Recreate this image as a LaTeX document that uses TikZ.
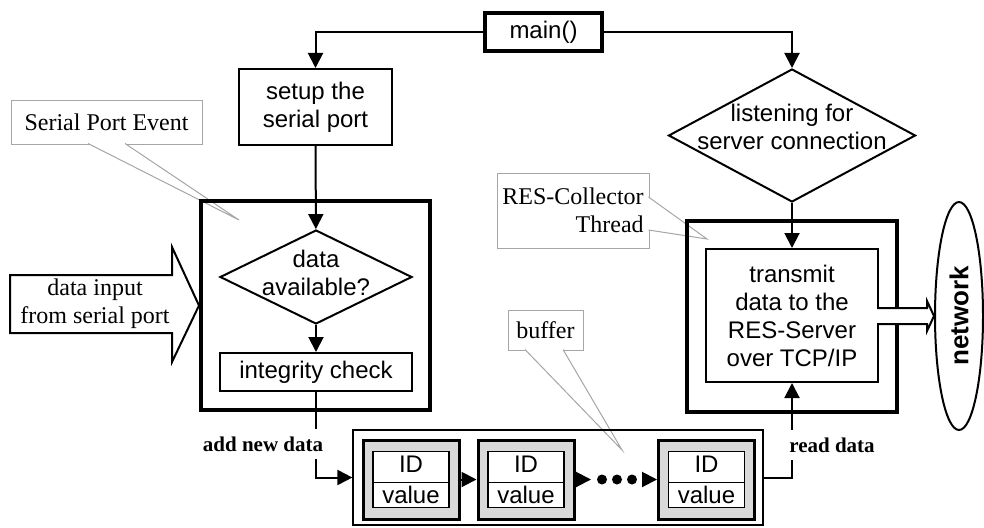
\documentclass[tikz,border=0pt]{standalone}
\usepackage{fontspec}
\setmainfont{Liberation Sans}
\newfontfamily\notefont{Liberation Serif}
\usetikzlibrary{arrows.meta,shapes.geometric,shapes.multipart}

\newcommand{\boxfont}{\fontsize{24}{28}\selectfont}

\begin{document}
\begin{tikzpicture}[x=1pt,y=-1pt,line width=2pt,
        arrow/.style={-{Triangle[length=15pt,width=15pt]}},
        block/.style={draw, rectangle, font=\boxfont, align=center, inner sep=2pt},
        decision/.style={draw, diamond, inner sep=0pt},
        threadbox/.style={draw, rectangle, line width=4pt},
        note/.style={draw=gray!70, line width=1pt, fill=white, font=\notefont\boxfont, inner sep=3pt},
        wedge/.style={draw=gray!70, line width=1pt, fill=white, line join=miter},
        hollow/.style={draw, fill=white, line width=2pt, line join=miter},
        flowlabel/.style={fill=white, font=\notefont\bfseries\fontsize{21}{25}\selectfont,
            inner xsep=2pt, inner ysep=8pt},
        cellframe/.style={draw, line width=3pt, fill=gray!30, minimum width=96pt, minimum height=79pt},
        cell/.style={draw, line width=1.2pt, fill=white, rectangle split, rectangle split parts=2,
            font=\boxfont, minimum width=76pt, text height=17pt, text depth=6pt,
            inner ysep=3.25pt, inner xsep=2pt}]
        \useasboundingbox (0,0) rectangle (984,527);

        % Comment boxes and where they point to
        \coordinate (porttip) at (239,220);
        \coordinate (threadtip) at (707,239);
        \coordinate (buffertip) at (622,450);
        \node[note, minimum width=191pt, minimum height=44pt] (portnote) at (106.5,122) {Serial Port Event};
        \draw[wedge] ([xshift=-18.5pt,yshift=1pt]portnote.south) -- (porttip)
            -- ([xshift=18.5pt,yshift=1pt]portnote.south);
        \node[note, minimum width=152pt, minimum height=75pt, align=right] (threadnote) at (573,210.5)
            {RES-Collector\\Thread};
        \draw[wedge] ([xshift=-1pt,yshift=13.5pt]threadnote.east) -- (threadtip)
            -- ([xshift=-1pt,yshift=-19.5pt]threadnote.east);
        \node[note, minimum width=75pt, minimum height=40pt] (buffernote) at (545.5,330) {buffer};
        \draw[wedge] ([xshift=-20.5pt,yshift=1pt]buffernote.south) -- (buffertip)
            -- ([xshift=17.5pt,yshift=1pt]buffernote.south);

        % Event handler and thread frames
        \node[threadbox, minimum width=229pt, minimum height=209pt] (serialbox) at (315.5,305.5) {};
        \node[threadbox, minimum width=210pt, minimum height=191pt] (collector) at (792,316.5) {};

        % Flow chart
        \node[block, line width=3.5pt, minimum width=117pt, minimum height=38pt] (main) at (543.5,32) {main()};
        \node[block, minimum width=153pt, minimum height=76pt] (setup) at (315.5,107) {setup the\\serial port};
        \node[decision, minimum width=192pt, minimum height=94pt,
            label={[font=\boxfont, align=center, yshift=4pt]center:data\\available?}] (avail) at (316,277) {};
        \node[block, minimum width=192pt, minimum height=38pt] (integrity) at (316,372) {integrity check};
        \node[decision, minimum width=247pt, minimum height=133pt,
            label={[font=\boxfont, align=center, yshift=9pt]center:listening for\\server connection}] (listen) at (792,135.5) {};
        \node[block, minimum width=172pt, minimum height=133pt] (transmit) at (792,315.5)
            {transmit\\data to the\\RES-Server\\over TCP/IP};
        \node[draw, ellipse, rotate=90, minimum width=228pt, minimum height=48pt, inner sep=0pt,
            font=\bfseries\fontsize{26}{30}\selectfont] (network) at (959,316) {network};

        % Buffer with its entries
        \node[draw, line width=1.2pt, minimum width=410pt, minimum height=95pt] (buffer) at (558,477.5) {};
        \foreach \n/\x in {a/411,b/526,c/706.5} {
            \node[cellframe] (frame\n) at (\x,479.5) {};
            \node[cell] (cell\n) at (\x,479.5) {ID\nodepart{two}value};
        }
        \foreach \i/\x in {1/602,2/617,3/632}
            \node[circle, fill, inner sep=0pt, minimum size=10pt] (dot\i) at (\x,479.5) {};

        \draw[arrow] (framea) -- (frameb);
        \draw[arrow, shorten >=5pt] (frameb) -- (dot1);
        \draw[arrow, shorten <=4pt] (dot3) -- (framec);

        % Connectors
        \draw[arrow] (main) -| (setup);
        \draw[arrow] (main) -| (listen);
        \draw[arrow] (setup) -- (avail);
        \draw[arrow] (avail) -- (integrity);
        \draw[arrow] (listen) -- (transmit);
        \draw[arrow] (integrity) |- (buffer);
        \draw[arrow] (buffer) -| (transmit);
        \node[flowlabel] (addlbl) at (263,444) {add new data};
        \node[flowlabel] (readlbl) at (832,445) {read data};

        % Data in from the serial port, data out to the network
        \draw[hollow] (10,275) -- (172,275) -- (172,247) -- (serialbox.west) -- (172,362)
            -- (172,333) -- (10,333) -- cycle;
        \node[font=\notefont\boxfont, align=center] (datain) at (95,304) {data input\\from serial port};
        \draw[hollow] (877,308) -- (927,308) -- (927,301) -- (network.north) -- (927,331)
            -- (927,324) -- (877,324);
\end{tikzpicture}
\end{document}
